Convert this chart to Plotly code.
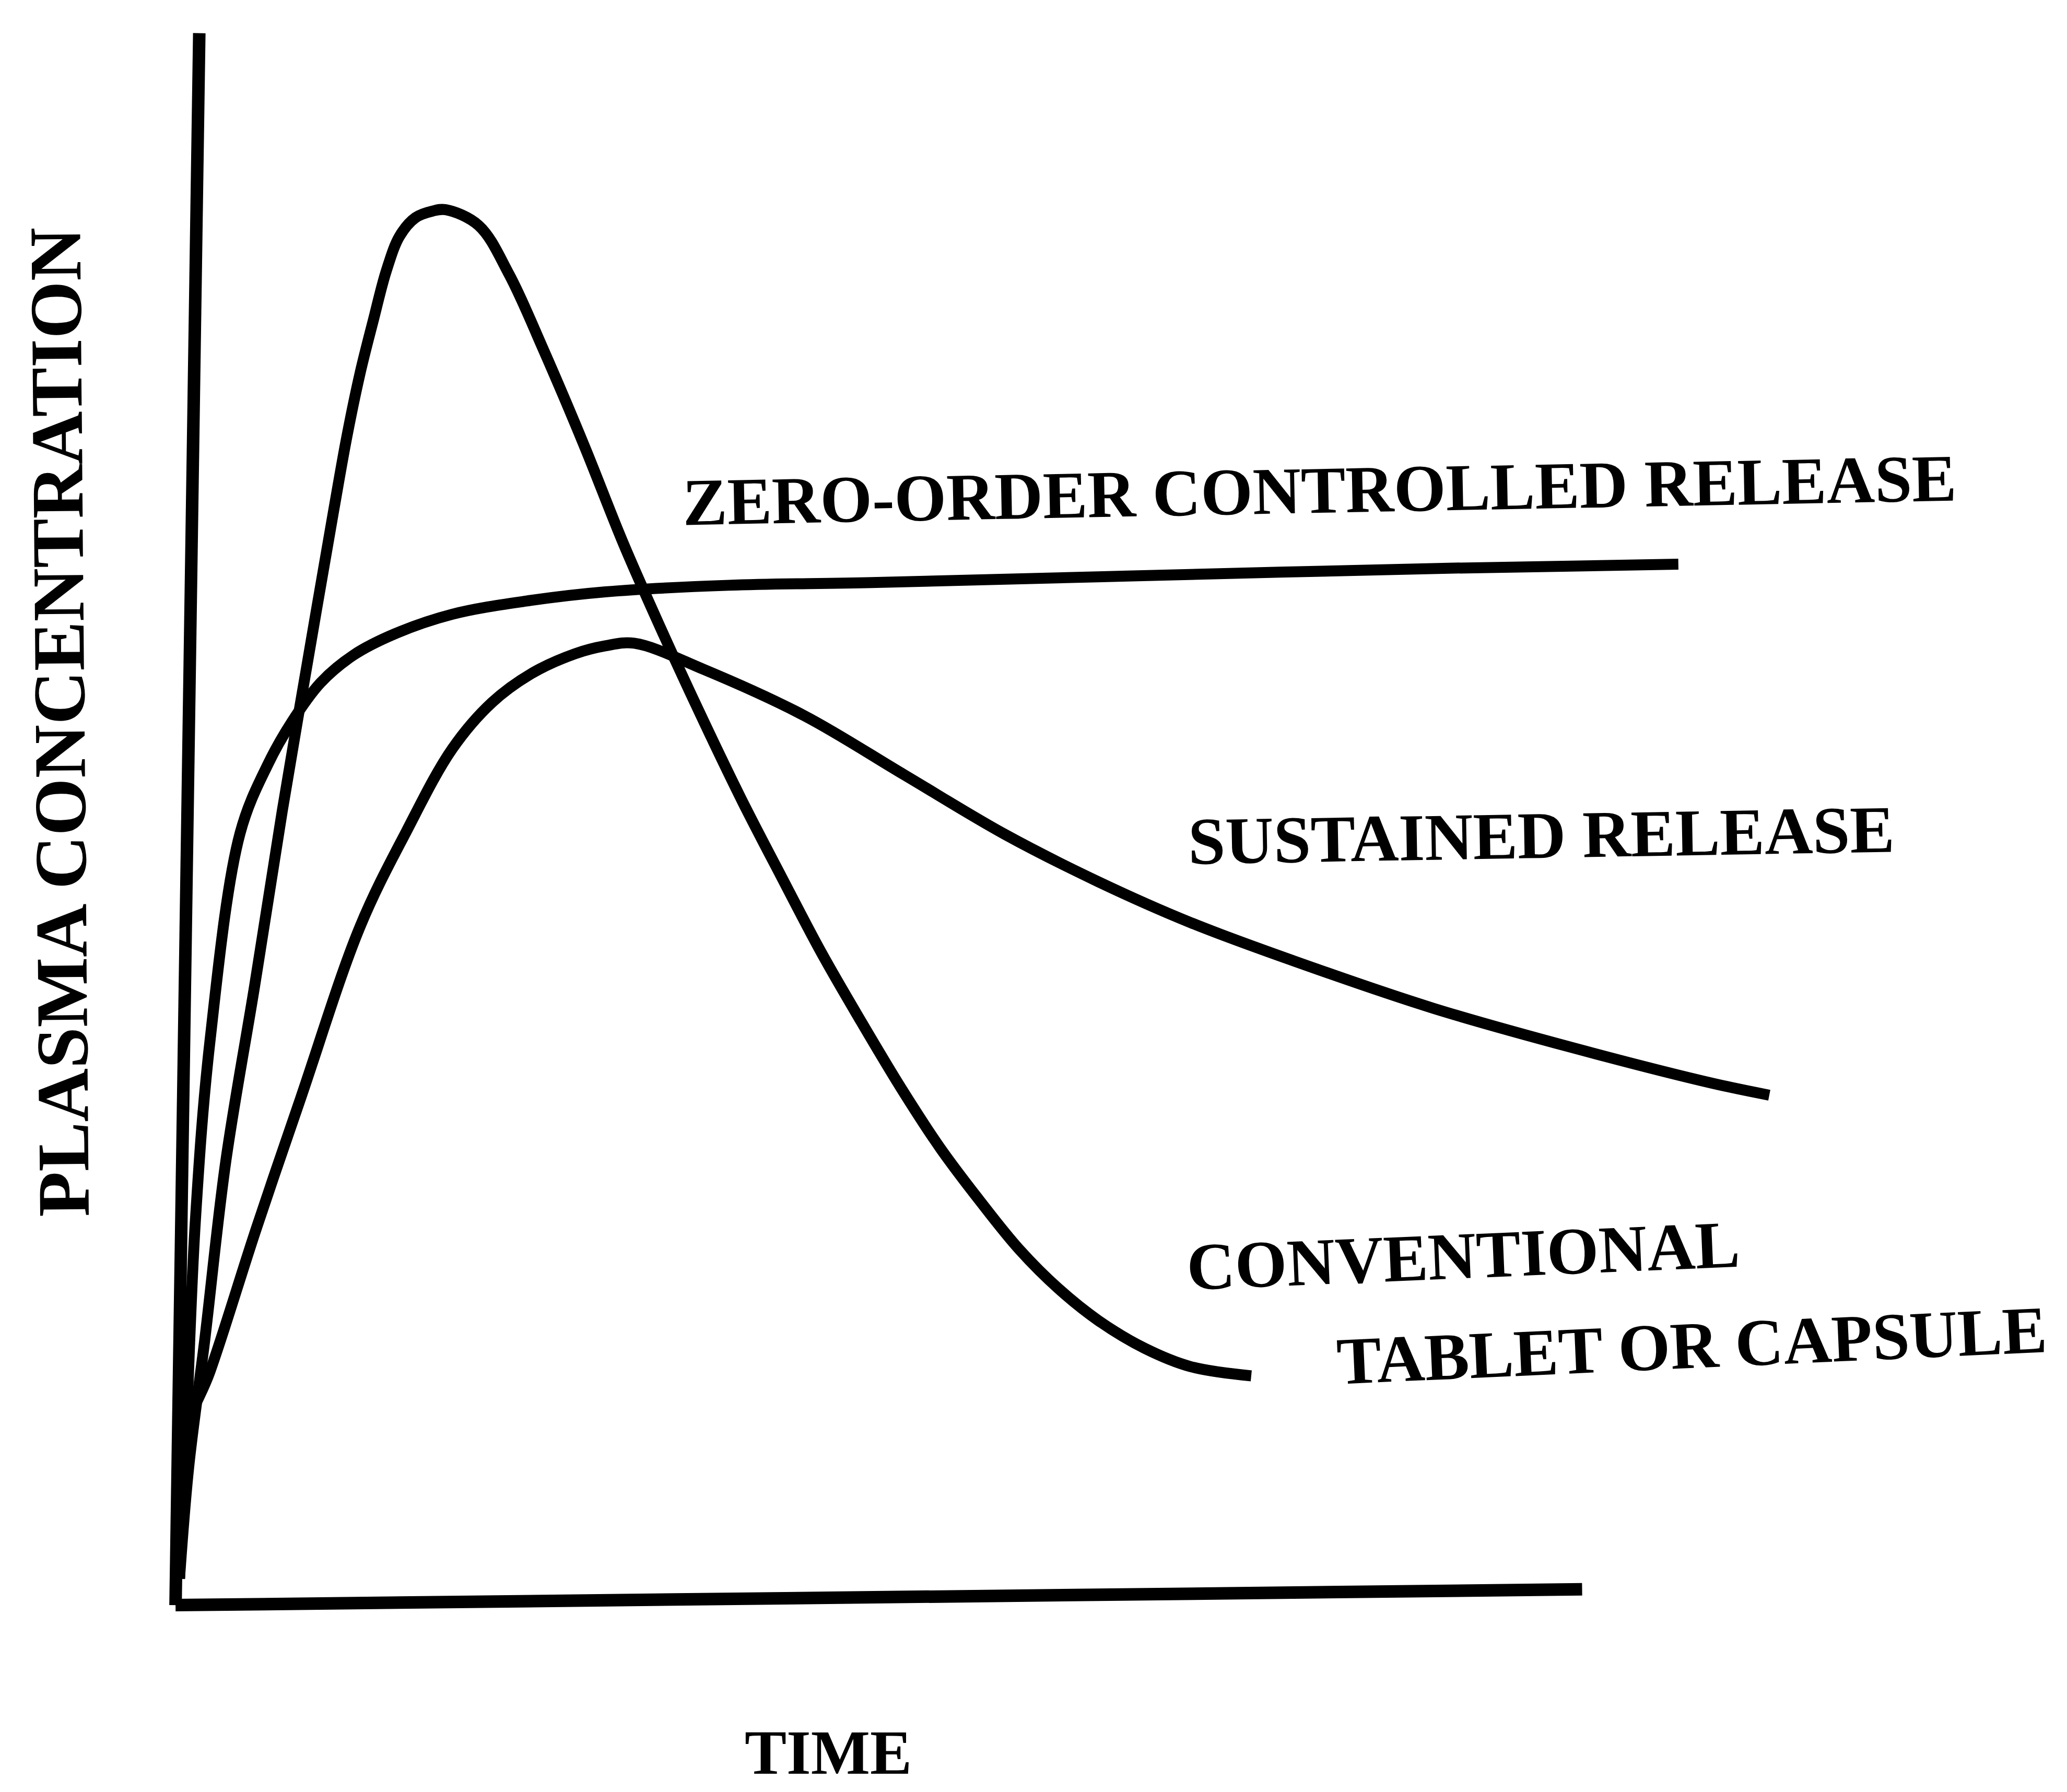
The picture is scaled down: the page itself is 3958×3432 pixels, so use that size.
import plotly.graph_objects as go

# Patent-style sketch: plasma concentration vs time for three dosage forms.
# Units are arbitrary (origin at the axes corner).

axis_time = [0, 1067]
axis_time_level = [0, 12]
axis_conc_time = [0, 18]
axis_conc = [0, 1193]

conv_time = [3, 10, 22, 38, 60, 81, 100, 120, 130, 140, 150, 160, 170, 182, 195, 205,
             230, 253, 279, 310, 340, 370, 401, 430, 460, 490, 520, 550, 580, 610,
             640, 670, 700, 735, 770, 816]
conv_conc = [20, 105, 200, 336, 470, 603, 715, 831, 887, 935, 975, 1013, 1039, 1053, 1058, 1059,
             1047, 1010, 953, 880, 805, 737, 670, 610, 552, 495, 443, 393, 347, 307,
             270, 240, 216, 195, 181, 174]

zero_time = [3, 8, 15, 26, 49, 70, 88, 110, 135, 166, 210, 266, 326, 420, 528, 722, 970, 1140]
zero_conc = [20, 131, 291, 427, 586, 638, 670, 700, 721, 737, 752, 762, 769, 774, 776, 781, 787, 790]

sust_time = [3, 8, 26, 61, 95, 140, 175, 210, 240, 270, 303, 326, 348, 401, 477, 553,
             629, 700, 770, 848, 954, 1060, 1166, 1209]
sust_conc = [20, 131, 177, 285, 385, 515, 587, 650, 685, 707, 722, 728, 730, 710, 675, 630,
             585, 549, 518, 489, 453, 423, 396, 387]

labels = ["ZERO-ORDER CONTROLLED RELEASE", "SUSTAINED RELEASE",
          "CONVENTIONAL", "TABLET OR CAPSULE"]
label_time = [868, 1036, 977, 1150]
label_conc = [846, 584, 265, 197]
label_angle = [-1.1, -1.0, -2.4, -2.6]

x_title = "TIME"
y_title = "PLASMA CONCENTRATION"

INK = "#000000"
FONT = "Liberation Serif, Times New Roman, serif"

fig = go.Figure()

# hand-drawn axes (slightly tilted, so drawn as lines rather than axis lines)
fig.add_trace(go.Scatter(x=axis_time, y=axis_time_level, mode="lines",
                         line=dict(color=INK, width=24), hoverinfo="skip"))
fig.add_trace(go.Scatter(x=axis_conc_time, y=axis_conc, mode="lines",
                         line=dict(color=INK, width=24), hoverinfo="skip"))

for name, t, c in [("Conventional", conv_time, conv_conc),
                   ("Zero-order", zero_time, zero_conc),
                   ("Sustained", sust_time, sust_conc)]:
    fig.add_trace(go.Scatter(x=t, y=c, mode="lines", name=name,
                             line=dict(color=INK, width=21, shape="spline", smoothing=1.0)))

for txt, tx, cy, ang in zip(labels, label_time, label_conc, label_angle):
    fig.add_annotation(x=tx, y=cy, text=txt, showarrow=False, textangle=ang,
                       xanchor="center", yanchor="middle",
                       font=dict(family=FONT, size=128, color=INK, weight="bold"))

fig.add_annotation(x=495, y=-112, text=x_title, showarrow=False,
                   xanchor="center", yanchor="middle",
                   font=dict(family=FONT, size=120, color=INK, weight="bold"))
fig.add_annotation(x=-88, y=670, text=y_title, showarrow=False, textangle=-90.5,
                   xanchor="center", yanchor="middle",
                   font=dict(family=FONT, size=142, color=INK, weight="bold"))

fig.update_layout(
    width=3958, height=3432,
    margin=dict(l=0, r=0, t=0, b=0),
    paper_bgcolor="white", plot_bgcolor="white",
    showlegend=False,
)
fig.update_xaxes(range=[-130, 1438], visible=False, showgrid=False, zeroline=False)
fig.update_yaxes(range=[-145, 1215], visible=False, showgrid=False, zeroline=False)

fig.write_html("out.html")
